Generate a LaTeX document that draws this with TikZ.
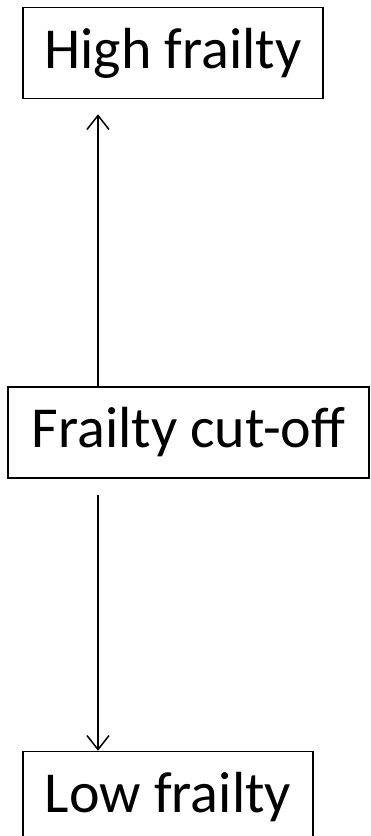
\documentclass[tikz,border=0pt]{standalone}
\usepackage{fontspec}
\setmainfont{Carlito}
\usetikzlibrary{arrows.meta, positioning}

\begin{document}
\begin{tikzpicture}[x=1pt, y=1pt, node distance=287pt,
    box/.style={rectangle, draw=black, line width=1.5pt, inner sep=0pt,
                minimum height=91pt, text centered,
                font=\fontsize{58}{70}\selectfont},
    arrow/.style={line width=1.5pt, -{Straight Barb[length=14pt, width=22pt, line width=1.5pt]}}]

\useasboundingbox (0,0) rectangle (370,-836);
\clip (0,0) rectangle (370,-836);

% Levels
\node (high) [box, minimum width=300pt] at (173,-53) {High frailty};
\node (cut)  [box, minimum width=361pt, below=287pt of high, xshift=15.5pt] {Frailty cut-off};
\node (low)  [box, minimum width=290pt, below=272pt of cut, xshift=-20.5pt] {Low frailty};

% Arrows
\coordinate (ax) at (98,0);
\draw [arrow] (cut.north -| ax) -- ([yshift=-15pt]high.south -| ax);
\draw [arrow] ([yshift=-16pt]cut.south -| ax) -- (low.north -| ax);
\end{tikzpicture}
\end{document}
